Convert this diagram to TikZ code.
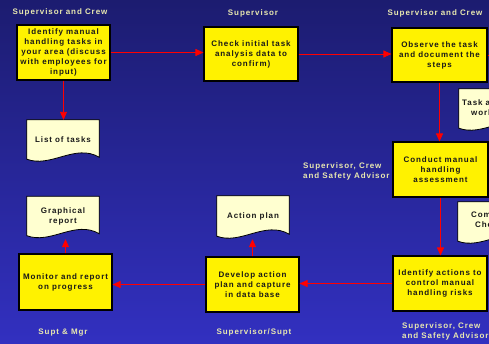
\documentclass[tikz,border=0pt]{standalone}
\usepackage{fontspec}
\setmainfont{Liberation Sans}[LetterSpace=11.5]
\usetikzlibrary{arrows.meta,calc}
\definecolor{lab}{RGB}{232,232,176}
\definecolor{bgtop}{RGB}{28,28,112}
\definecolor{bgbot}{RGB}{50,48,192}
\definecolor{docfill}{RGB}{255,255,208}
\definecolor{boxtext}{RGB}{25,25,25}
\newcommand\dfont{\bfseries\fontsize{8}{10}\selectfont}
\pgfdeclarelayer{bgfill}
\pgfdeclarelayer{docs}
\pgfsetlayers{bgfill,docs,main}
\newcommand\docpath[1]{%
  \filldraw[docline] (#1.north west) -- (#1.north east) -- ($(#1.south east)+(0,-2)$)
  .. controls ($(#1.south west)!0.667!(#1.south east)+(0,-16)$) and ($(#1.south west)!0.333!(#1.south east)+(0,9)$) .. (#1.south west) -- cycle;}
\tikzset{
  procbox/.style={draw=black, line width=1.1pt, fill=yellow, align=center, inner sep=0pt, font=\dfont, text=boxtext},
  docnode/.style={minimum width=72pt, minimum height=39pt, inner sep=0pt, align=center, font=\dfont, text=boxtext},
  docline/.style={draw=black, line width=0.8pt, fill=docfill},
  frag/.style={anchor=west, inner sep=0pt, font=\dfont, text=boxtext},
  lbl/.style={inner sep=0pt, font=\dfont, text=lab},
  arr/.style={draw=red, line width=0.9pt, -{Triangle[length=8pt,width=7pt]}},
  redline/.style={draw=red, line width=0.9pt}
}
\begin{document}
\begin{tikzpicture}[x=1pt,y=-1pt]
\clip (0,0) rectangle (489,343);
\begin{pgfonlayer}{bgfill}
\fill[top color=bgtop, bottom color=bgbot] (0,0) rectangle (489,343);
\end{pgfonlayer}

% labels
\node[lbl] (l1) at (60,12) {Supervisor and Crew};
\node[lbl] (l2) at (253,13) {Supervisor};
\node[lbl] (l3) at (435,13) {Supervisor and Crew};
\node[lbl, align=left, anchor=west] (l4) at (303,171) {Supervisor, Crew\\and Safety Advisor};
\node[lbl, align=left, anchor=west] (l5) at (402,331) {Supervisor, Crew\\and Safety Advisor};
\node[lbl] (l6) at (63,333) {Supt \& Mgr};
\node[lbl] (l7) at (254,332) {Supervisor/Supt};

% process boxes
\node[procbox, minimum width=93pt, minimum height=55pt] (b1) at (63.5,52.5)
  {Identify manual\\handling tasks in\\your area (discuss\\with employees for\\input)};
\node[procbox, minimum width=94pt, minimum height=54pt] (b2) at (251,54)
  {Check initial task\\analysis data to\\confirm)};
\node[procbox, minimum width=95pt, minimum height=54pt] (b3) at (439.5,55)
  {Observe the task\\and document the\\steps};
\node[procbox, minimum width=95pt, minimum height=55pt] (b4) at (440.5,169.5)
  {Conduct manual\\handling\\assessment};
\node[procbox, minimum width=94pt, minimum height=55pt] (b5) at (440,283.5)
  {Identify actions to\\control manual\\handling risks};
\node[procbox, minimum width=93pt, minimum height=55pt] (b6) at (252.5,284.5)
  {Develop action\\plan and capture\\in data base};
\node[procbox, minimum width=93pt, minimum height=56pt] (b7) at (65.5,282)
  {Monitor and report\\on progress};

% documents
\node[docnode] (lt) at (63,139.5) {List of tasks};
\node[docnode] (gr) at (63,216) {Graphical\\report};
\node[docnode, minimum height=40pt] (ap) at (253,216) {Action plan};
\node[docnode] (taw) at (495,108.5) {};
\node[docnode] (cc) at (494,221.5) {};
\node[frag] (taw1) at (462,103) {Task a};
\node[frag] (taw2) at (471,113) {work};
\node[frag] (cc1) at (471,215) {Com};
\node[frag] (cc2) at (475,225) {Che};
\begin{pgfonlayer}{docs}
\docpath{lt}
\docpath{gr}
\docpath{ap}
\docpath{taw}
\docpath{cc}
\end{pgfonlayer}

% connectors
\coordinate (offr) at (495,55);
\draw[arr] (b1.east) -- (b1.east -| b2.west);
\draw[arr] (b2.east) -- (b2.east -| b3.west);
\draw[redline] (b3.east) -- (offr);
\draw[arr] (b3.south) -- (b3.south |- b4.north);
\draw[arr] (b4.south) -- (b4.south |- b5.north);
\draw[arr] (b5.west) -- (b5.west -| b6.east);
\draw[arr] (b6.west) -- (b6.west -| b7.east);
\draw[arr, shorten >=3pt] (b6.north) -- (b6.north |- ap.south);
\draw[arr, shorten >=3.5pt] (b7.north) -- (b7.north |- gr.south);
\draw[arr] (b1.south) -- (b1.south |- lt.north);
\end{tikzpicture}
\end{document}
